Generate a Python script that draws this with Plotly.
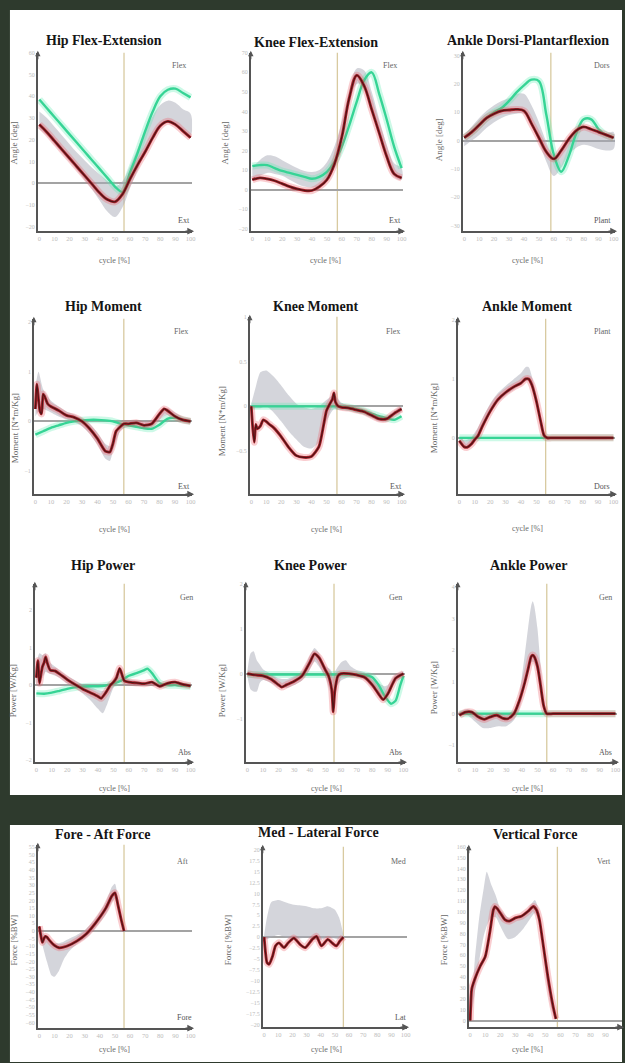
import plotly.graph_objects as go

W, H = 625, 1063

CYCLE = [0, 5, 10, 15, 20, 25, 30, 35, 40, 45, 50, 55, 60, 65, 70, 75, 80, 85, 90, 95, 100]
TICKS_X = [0, 10, 20, 30, 40, 50, 60, 70, 80, 90, 100]

# ---------------- joint angles [deg] ----------------
HIP_ANG_PAT = [27, 23.5, 19.5, 15.5, 11.5, 7.5, 3.5, -0.5, -4.5, -7.5, -8.5, -5, 2, 8.5, 14.5, 21, 26.5, 28.5, 27, 24, 21]
HIP_ANG_CMP = [38.5, 34.5, 30.5, 26.5, 22.5, 18.5, 14.5, 10.5, 6.5, 2.5, -1.5, -4, 5, 14, 24, 33, 40, 43, 43.5, 41.5, 39.5]
HIP_ANG_REF = [29, 26, 22, 18, 14, 10, 6, 2, -2, -6, -8.5, -5, 3, 11, 19, 26, 31, 33, 32, 29, 27]
HIP_ANG_SD = [4, 4, 4, 4, 4, 4, 4.5, 5, 6, 7, 7, 6, 5, 5, 5, 5, 5, 5, 5, 5, 5]

KNEE_ANG_PAT = [5, 6, 5.5, 4.5, 3, 1.5, 0.3, -0.5, -0.5, 1.5, 5, 13, 27, 47, 58.5, 53, 41, 29, 17, 8, 6]
KNEE_ANG_CMP = [12, 12.5, 12.5, 11, 9.5, 8.5, 7.5, 6.5, 5.5, 6.5, 9, 14, 22, 33, 45, 56, 60, 49, 36, 22, 11]
KNEE_ANG_REF = [8, 11, 13, 12.5, 11, 9, 7, 5.5, 5, 6, 10, 18, 31, 47, 58, 57, 46, 32, 19, 10, 8]
KNEE_ANG_SD = [3, 4, 4.5, 4.5, 4, 4, 4, 4, 4, 4, 4, 4, 4, 4, 4, 4, 4, 4, 4, 3.5, 3]

ANK_ANG_PAT = [1, 3, 5.5, 8, 9.5, 10.5, 10.8, 11, 10.5, 6, 1, -4, -6.5, -3.5, 0.5, 3.5, 4.8, 4, 3, 2, 1]
ANK_ANG_CMP = [1, 3, 5.5, 8, 10, 11.5, 14, 17, 19.5, 21.5, 21, 9, -5, -11, -5.5, 2.5, 7.5, 7.5, 4, 2, 1]
ANK_ANG_REF = [0, 2.5, 5, 7.5, 9.5, 11, 12, 13, 13, 9, 3, -4, -9, -6, -2, 0.5, 1.5, 1, 0, -0.5, 0]
ANK_ANG_SD = [2, 2.5, 3, 3, 3, 3, 3, 3.5, 3.5, 3.5, 3.5, 3.5, 3.5, 3.5, 3, 3, 3, 3, 3, 3, 3]

# ---------------- joint moments [N*m/Kg] ----------------
HIP_MOM_PAT_X = [0, 1, 2, 3, 4, 5, 6, 8, 10, 15, 20, 25, 30, 35, 40, 45, 48, 50, 52, 55, 57, 60, 65, 70, 75, 80, 83, 85, 90, 95, 100]
HIP_MOM_PAT = [0.25, 0.75, 0.45, 0.2, 0.15, 0.55, 0.5, 0.35, 0.3, 0.22, 0.12, 0.08, 0, -0.15, -0.35, -0.6, -0.62, -0.45, -0.2, -0.1, -0.05, -0.05, -0.03, -0.08, -0.05, 0.15, 0.25, 0.22, 0.1, 0.03, 0]
HIP_MOM_CMP = [-0.27, -0.2, -0.13, -0.08, -0.03, 0, 0.02, 0.03, 0.03, 0.02, 0, -0.05, -0.08, -0.11, -0.14, -0.15, -0.07, 0.05, 0.07, 0.03, 0]
HIP_MOM_REF_X = [0, 2, 5, 10, 15, 20, 25, 30, 35, 40, 45, 48, 50, 55, 60, 65, 70, 75, 80, 85, 90, 95, 100]
HIP_MOM_REF = [0.4, 0.6, 0.45, 0.3, 0.2, 0.12, 0.06, -0.02, -0.15, -0.35, -0.6, -0.65, -0.45, -0.1, -0.05, -0.05, -0.08, -0.05, 0.1, 0.2, 0.12, 0.03, 0]
HIP_MOM_SD = [0.3, 0.4, 0.2, 0.12, 0.1, 0.08, 0.08, 0.08, 0.1, 0.12, 0.15, 0.15, 0.15, 0.08, 0.06, 0.06, 0.06, 0.06, 0.07, 0.07, 0.06, 0.05, 0.05]

KNEE_MOM_PAT_X = [0, 1, 2, 3, 4, 6, 8, 10, 12, 15, 20, 25, 30, 35, 40, 45, 48, 50, 52, 54, 55, 56, 58, 60, 65, 70, 75, 80, 85, 90, 95, 100]
KNEE_MOM_PAT = [0, -0.25, -0.4, -0.2, -0.25, -0.22, -0.15, -0.17, -0.2, -0.24, -0.34, -0.46, -0.55, -0.57, -0.56, -0.45, -0.22, -0.05, 0.02, 0.08, 0.15, 0.05, 0, -0.01, -0.02, -0.04, -0.06, -0.1, -0.14, -0.14, -0.08, -0.03]
KNEE_MOM_CMP_X = [0, 10, 20, 30, 40, 50, 55, 60, 65, 70, 75, 80, 85, 90, 95, 100]
KNEE_MOM_CMP = [0, 0, 0, 0, 0, 0, 0, 0, -0.01, -0.03, -0.05, -0.08, -0.11, -0.13, -0.15, -0.11]
KNEE_MOM_REF_X = [0, 3, 6, 10, 15, 20, 25, 30, 35, 40, 45, 50, 55, 60, 65, 70, 75, 80, 85, 90, 95, 100]
KNEE_MOM_REF = [0, 0.1, 0.18, 0.2, 0.13, 0.03, -0.08, -0.17, -0.23, -0.25, -0.2, -0.05, 0.05, 0, -0.02, -0.04, -0.06, -0.1, -0.14, -0.14, -0.08, -0.03]
KNEE_MOM_SD = [0.03, 0.12, 0.2, 0.2, 0.2, 0.2, 0.2, 0.2, 0.22, 0.22, 0.2, 0.12, 0.08, 0.04, 0.03, 0.03, 0.03, 0.03, 0.03, 0.03, 0.03, 0.03]

ANK_MOM_PAT_X = [0, 3, 5, 8, 10, 12, 15, 20, 25, 30, 35, 40, 43, 45, 47, 50, 53, 55, 57, 60, 70, 80, 90, 100]
ANK_MOM_PAT = [-0.05, -0.15, -0.16, -0.1, -0.03, 0.03, 0.2, 0.45, 0.65, 0.77, 0.86, 0.93, 1.0, 1.0, 0.9, 0.62, 0.25, 0.04, 0, 0, 0, 0, 0, 0]
ANK_MOM_CMP = [0, 0, 0, 0, 0, 0, 0, 0, 0, 0, 0, 0, 0, 0, 0, 0, 0, 0, 0, 0, 0]
ANK_MOM_REF_X = [0, 3, 5, 8, 10, 12, 15, 20, 25, 30, 35, 40, 43, 45, 47, 50, 53, 55, 57, 60, 100]
ANK_MOM_REF = [-0.02, -0.1, -0.1, -0.05, 0.02, 0.1, 0.25, 0.5, 0.68, 0.8, 0.9, 1.0, 1.08, 1.08, 0.95, 0.65, 0.28, 0.06, 0, 0, 0]
ANK_MOM_SD = [0.03, 0.06, 0.07, 0.07, 0.07, 0.07, 0.08, 0.08, 0.08, 0.08, 0.09, 0.1, 0.12, 0.12, 0.1, 0.08, 0.06, 0.04, 0.02, 0.01, 0.01]

# ---------------- joint powers [W/Kg] ----------------
HIP_POW_PAT_X = [0, 1, 2, 3, 4, 5, 6, 7, 9, 12, 15, 20, 25, 30, 35, 40, 42, 45, 48, 50, 52, 54, 55, 57, 60, 65, 70, 75, 80, 85, 90, 95, 100]
HIP_POW_PAT = [0.2, 0.65, 0.05, 0.3, 0.5, 0.6, 0.75, 0.6, 0.4, 0.38, 0.3, 0.15, 0.02, -0.1, -0.2, -0.3, -0.35, -0.2, 0, 0.08, 0.2, 0.45, 0.35, 0.12, 0.08, 0.06, 0.04, 0.08, -0.03, 0.05, 0.08, 0.02, -0.02]
HIP_POW_CMP_X = [0, 5, 10, 15, 20, 25, 30, 35, 40, 45, 50, 55, 60, 65, 70, 72, 75, 80, 85, 90, 95, 100]
HIP_POW_CMP = [-0.22, -0.23, -0.2, -0.15, -0.1, -0.06, -0.04, -0.03, -0.03, -0.01, 0.04, 0.12, 0.25, 0.32, 0.4, 0.44, 0.32, 0.05, 0, 0, -0.02, -0.03]
HIP_POW_REF_X = [0, 2, 4, 6, 9, 12, 15, 20, 25, 30, 35, 40, 43, 46, 50, 53, 55, 57, 60, 65, 70, 75, 80, 85, 90, 95, 100]
HIP_POW_REF = [0.3, 0.5, 0.5, 0.6, 0.45, 0.38, 0.3, 0.15, 0.03, -0.1, -0.22, -0.38, -0.45, -0.3, 0.05, 0.25, 0.3, 0.12, 0.08, 0.06, 0.04, 0.06, -0.02, 0.05, 0.07, 0.02, -0.02]
HIP_POW_SD = [0.3, 0.35, 0.3, 0.25, 0.15, 0.12, 0.1, 0.1, 0.1, 0.12, 0.18, 0.25, 0.3, 0.2, 0.12, 0.15, 0.15, 0.1, 0.08, 0.06, 0.05, 0.05, 0.05, 0.05, 0.05, 0.04, 0.04]

KNEE_POW_PAT_X = [0, 5, 10, 15, 20, 22, 25, 30, 35, 40, 43, 46, 50, 52, 54, 55, 56, 58, 60, 65, 70, 75, 80, 85, 87, 90, 95, 100]
KNEE_POW_PAT = [0, -0.03, -0.05, -0.12, -0.25, -0.3, -0.25, -0.17, -0.05, 0.25, 0.44, 0.35, 0.08, -0.05, -0.35, -0.85, -0.4, -0.05, 0, 0, -0.03, -0.08, -0.25, -0.5, -0.58, -0.45, -0.1, 0]
KNEE_POW_CMP_X = [0, 10, 20, 30, 40, 50, 60, 70, 75, 80, 84, 88, 92, 95, 98, 100]
KNEE_POW_CMP = [-0.02, -0.02, -0.02, -0.02, -0.02, -0.02, -0.02, -0.02, -0.03, -0.08, -0.25, -0.5, -0.67, -0.6, -0.25, -0.05]
KNEE_POW_REF_X = [0, 2, 4, 6, 8, 10, 15, 20, 25, 30, 35, 40, 43, 46, 50, 53, 55, 57, 60, 63, 66, 70, 75, 80, 85, 88, 90, 95, 100]
KNEE_POW_REF = [0, 0.05, 0.05, -0.05, 0, -0.02, -0.1, -0.2, -0.22, -0.15, -0.05, 0.25, 0.42, 0.3, 0.05, -0.15, -0.3, -0.1, 0.05, 0.1, 0.05, 0, -0.05, -0.2, -0.35, -0.4, -0.35, -0.1, 0]
KNEE_POW_SD = [0.05, 0.4, 0.45, 0.35, 0.2, 0.12, 0.1, 0.1, 0.1, 0.1, 0.1, 0.15, 0.15, 0.15, 0.12, 0.25, 0.3, 0.2, 0.2, 0.2, 0.12, 0.08, 0.08, 0.12, 0.12, 0.12, 0.1, 0.08, 0.05]

ANK_POW_PAT_X = [0, 4, 8, 12, 16, 20, 24, 28, 31, 35, 38, 40, 42, 44, 46, 47, 48, 50, 52, 54, 56, 60, 70, 80, 90, 100]
ANK_POW_PAT = [-0.05, 0.05, 0.05, -0.1, -0.18, -0.1, -0.05, -0.15, -0.16, 0, 0.35, 0.65, 1.0, 1.4, 1.8, 1.85, 1.8, 1.5, 0.9, 0.25, 0, 0, 0, 0, 0, 0]
ANK_POW_CMP = [0, 0, 0, 0, 0, 0, 0, 0, 0, 0, 0, 0, 0, 0, 0, 0, 0, 0, 0, 0, 0]
ANK_POW_REF_X = [0, 5, 10, 15, 20, 25, 30, 35, 38, 40, 42, 44, 46, 47, 48, 50, 52, 54, 56, 60, 100]
ANK_POW_REF = [0, 0.05, -0.1, -0.25, -0.25, -0.2, -0.2, -0.05, 0.3, 0.8, 1.4, 2.0, 2.5, 2.6, 2.5, 2.0, 1.1, 0.35, 0.05, 0, 0]
ANK_POW_SD = [0.05, 0.1, 0.15, 0.2, 0.2, 0.2, 0.2, 0.15, 0.2, 0.35, 0.5, 0.7, 0.9, 0.95, 0.9, 0.7, 0.45, 0.2, 0.05, 0.02, 0.02]

# ---------------- ground reaction forces [%BW] ----------------
FA_PAT_X = [0, 1, 2, 3, 4, 5, 7, 10, 13, 18, 25, 31, 37, 44, 48, 50, 52, 54, 56]
FA_PAT = [3, -3, -7.5, -5, -3.5, -4, -6.5, -9.5, -11, -10, -6.5, -2, 5, 15, 23, 25, 17, 8, 0]
FA_REF_X = [0, 2, 5, 8, 10, 13, 16, 20, 25, 31, 37, 44, 48, 50, 52, 54, 56]
FA_REF = [0, -5, -12, -18, -19, -17, -13, -9, -5.5, -1.5, 5, 15, 24, 26, 18, 8, 0]
FA_SD = [1, 4, 8, 11, 11, 9, 6, 4, 3, 3, 3, 4, 5, 5, 4, 3, 1]

ML_PAT_X = [0, 1, 2, 3.5, 6, 8, 10.5, 14, 17, 21, 25.5, 29, 34, 37, 40.5, 45, 48, 51, 53.5, 56]
ML_PAT = [0, -3.6, -5.8, -6.2, -4.3, -2, -1.3, -2.4, -1.3, -0.2, -1.7, -2.4, -0.5, 0.2, -2, -0.5, -1.3, -2, -0.9, 0]
ML_REF_X = [0, 2, 5, 10, 15, 20, 25, 30, 35, 40, 45, 50, 53, 56]
ML_REF = [0, 2, 4, 4.5, 4, 3.5, 3.5, 3.5, 3, 3, 3.5, 3, 2, 0]
ML_SD = [0.5, 2.5, 4, 4, 4, 4, 3.8, 3.6, 3.6, 3.6, 3.6, 3.3, 2.5, 0.5]

VT_PAT_X = [0, 1, 3, 6.6, 10, 13, 15.4, 16.5, 18, 20, 23, 26, 30, 34, 38.5, 42, 44, 46, 48, 51.6, 55, 57]
VT_PAT = [0, 29, 38, 50, 59, 81, 102, 105, 103, 99, 93, 91.5, 94.5, 96, 100.6, 105, 102, 93, 75, 41, 14, 1.5]
VT_REF_X = [0, 3, 6, 9, 11, 14, 17, 20, 25, 30, 35, 40, 43, 46, 48, 51, 54, 57]
VT_REF = [0, 40, 75, 100, 112, 110, 105, 95, 85, 85, 90, 100, 105, 95, 75, 40, 15, 0]
VT_SD = [2, 15, 20, 22, 25, 15, 10, 8, 10, 8, 6, 6, 6, 5, 5, 5, 4, 1]

# toe-off instant for each panel [% cycle]
TOE_OFF = [56, 57, 58, 57, 57, 56, 57, 55.5, 56, 56, 56, 58]

# ---------------- styling ----------------
BG = "#2e3a2d"
PAT_COLOR = "#a8212a"
PAT_CORE = "#4e1416"
PAT_HALO = "rgba(235,90,100,0.30)"
CMP_COLOR = "#36d495"
CMP_HALO = "rgba(90,235,175,0.30)"
BAND = "rgba(170,172,184,0.5)"
AXIS = "#555555"
TICKC = "#bbbbbb"
TOE_COLOR = "#d8caa0"
SERIF = "Liberation Serif"


def fx(x):
    return x / W


def fy(y):
    return 1 - y / H


def band(x, mean, sd):
    up = [m + s for m, s in zip(mean, sd)]
    lo = [m - s for m, s in zip(mean, sd)]
    return list(x) + list(x)[::-1], up + lo[::-1]


PANELS = [
    dict(title="Hip Flex-Extension", ylab="Angle [deg]", top="Flex", bot="Ext",
         box=(38, 193, 50, 229), yr=(-22, 60), yt=[-20, -10, 0, 10, 20, 30, 40, 50, 60],
         tpos=(104, 38), ypos=(15, 140), xpos=(115, 258), toppos=(180, 63), botpos=(185, 218),
         ref=(CYCLE, HIP_ANG_REF, HIP_ANG_SD), cmp=(CYCLE, HIP_ANG_CMP), pat=(CYCLE, HIP_ANG_PAT), sm=1.0),
    dict(title="Knee Flex-Extension", ylab="Angle [deg]", top="Flex", bot="Ext",
         box=(252, 405, 50, 229), yr=(-21.3, 70), yt=[-20, -10, 0, 10, 20, 30, 40, 50, 60, 70],
         tpos=(318, 40), ypos=(227, 140), xpos=(327, 258), toppos=(392, 63), botpos=(397, 218),
         ref=(CYCLE, KNEE_ANG_REF, KNEE_ANG_SD), cmp=(CYCLE, KNEE_ANG_CMP), pat=(CYCLE, KNEE_ANG_PAT), sm=1.0),
    dict(title="Ankle Dorsi-Plantarflexion", ylab="Angle [deg]", top="Dors", bot="Plant",
         box=(465, 618, 50, 229), yr=(-32, 31), yt=[-30, -20, -10, 0, 10, 20, 30],
         tpos=(531, 38), ypos=(442, 137), xpos=(530, 258), toppos=(605, 63), botpos=(605, 218),
         ref=(CYCLE, ANK_ANG_REF, ANK_ANG_SD), cmp=(CYCLE, ANK_ANG_CMP), pat=(CYCLE, ANK_ANG_PAT), sm=1.0),
    dict(title="Hip Moment", ylab="Moment [N*m/Kg]", top="Flex", bot="Ext",
         box=(34, 193, 317, 493), yr=(-1.47, 2.07), yt=[-1, 0, 1, 2],
         tpos=(104, 305), ypos=(15, 427), xpos=(115, 528), toppos=(182, 330), botpos=(185, 485),
         ref=(HIP_MOM_REF_X, HIP_MOM_REF, HIP_MOM_SD), cmp=(CYCLE, HIP_MOM_CMP), pat=(HIP_MOM_PAT_X, HIP_MOM_PAT), sm=0.6),
    dict(title="Knee Moment", ylab="Moment [N*m/Kg]", top="Flex", bot="Ext",
         box=(251, 405, 315, 493), yr=(-0.98, 1.0), yt=[-1, -0.5, 0, 0.5, 1],
         tpos=(317, 305), ypos=(223, 420), xpos=(328, 528), toppos=(395, 330), botpos=(398, 485),
         ref=(KNEE_MOM_REF_X, KNEE_MOM_REF, KNEE_MOM_SD), cmp=(KNEE_MOM_CMP_X, KNEE_MOM_CMP), pat=(KNEE_MOM_PAT_X, KNEE_MOM_PAT), sm=0.6),
    dict(title="Ankle Moment", ylab="Moment [N*m/Kg]", top="Plant", bot="Dors",
         box=(460, 618, 317, 493), yr=(-0.955, 2.02), yt=[-1, 0, 1, 2],
         tpos=(530, 305), ypos=(437, 417), xpos=(530, 527), toppos=(605, 330), botpos=(605, 485),
         ref=(ANK_MOM_REF_X, ANK_MOM_REF, ANK_MOM_SD), cmp=(CYCLE, ANK_MOM_CMP), pat=(ANK_MOM_PAT_X, ANK_MOM_PAT), sm=0.7),
    dict(title="Hip Power", ylab="Power [W/Kg]", top="Gen", bot="Abs",
         box=(35, 193, 583, 762), yr=(-2.05, 2.7), yt=[-2, -1, 0, 1, 2],
         tpos=(103, 565), ypos=(13, 690), xpos=(115, 788), toppos=(187, 597), botpos=(185, 752),
         ref=(HIP_POW_REF_X, HIP_POW_REF, HIP_POW_SD), cmp=(HIP_POW_CMP_X, HIP_POW_CMP), pat=(HIP_POW_PAT_X, HIP_POW_PAT), sm=0.6),
    dict(title="Knee Power", ylab="Power [W/Kg]", top="Gen", bot="Abs",
         box=(247, 407, 583, 762), yr=(-1.97, 2.0), yt=[-2, -1, 0, 1, 2],
         tpos=(312, 565), ypos=(223, 690), xpos=(328, 788), toppos=(397, 597), botpos=(397, 752),
         ref=(KNEE_POW_REF_X, KNEE_POW_REF, KNEE_POW_SD), cmp=(KNEE_POW_CMP_X, KNEE_POW_CMP), pat=(KNEE_POW_PAT_X, KNEE_POW_PAT), sm=0.6),
    dict(title="Ankle Power", ylab="Power [W/Kg]", top="Gen", bot="Abs",
         box=(460, 620, 583, 762), yr=(-1.53, 4.1), yt=[-1, 0, 1, 2, 3, 4],
         tpos=(531, 565), ypos=(437, 687), xpos=(530, 788), toppos=(608, 597), botpos=(608, 752),
         ref=(ANK_POW_REF_X, ANK_POW_REF, ANK_POW_SD), cmp=(CYCLE, ANK_POW_CMP), pat=(ANK_POW_PAT_X, ANK_POW_PAT), sm=0.7),
    dict(title="Fore - Aft Force", ylab="Force [%BW]", top="Aft", bot="Fore",
         box=(38, 193, 845, 1029), yr=(-63.7, 56.5), yt=list(range(-60, 56, 5)),
         tpos=(103, 835), ypos=(15, 940), xpos=(115, 1050), toppos=(183, 862), botpos=(185, 1018),
         ref=(FA_REF_X, FA_REF, FA_SD), cmp=None, pat=(FA_PAT_X, FA_PAT), sm=0.6),
    dict(title="Med - Lateral Force", ylab="Force [%BW]", top="Med", bot="Lat",
         box=(264, 409, 847, 1028), yr=(-20.6, 20.7), yt=[-20, -17.5, -15, -12.5, -10, -7.5, -5, -2.5, 0, 2.5, 5, 7.5, 10, 12.5, 15, 17.5, 20],
         tpos=(320, 833), ypos=(230, 940), xpos=(328, 1050), toppos=(400, 862), botpos=(402, 1018),
         ref=(ML_REF_X, ML_REF, ML_SD), cmp=None, pat=(ML_PAT_X, ML_PAT), sm=0.6),
    dict(title="Vertical Force", ylab="Force [%BW]", top="Vert", bot="",
         box=(471, 625, 847, 1028), yr=(-6.1, 160), yt=list(range(0, 161, 10)),
         tpos=(538, 835), ypos=(447, 940), xpos=(530, 1050), toppos=(607, 862), botpos=(607, 1018),
         ref=(VT_REF_X, VT_REF, VT_SD), cmp=None, pat=(VT_PAT_X, VT_PAT), sm=0.6),
]

fig = go.Figure()
shapes = [
    dict(type="rect", xref="paper", yref="paper", x0=fx(10), x1=1, y0=fy(795), y1=fy(7),
         fillcolor="white", line=dict(width=0), layer="below"),
    dict(type="rect", xref="paper", yref="paper", x0=fx(10), x1=1, y0=0, y1=fy(825),
         fillcolor="white", line=dict(width=0), layer="below"),
]
annotations = []
layout_axes = {}


def label(x, y, text, size, color, angle=0):
    return dict(x=fx(x), y=fy(y), xref="paper", yref="paper", xanchor="center", yanchor="middle",
                text=text, textangle=angle, showarrow=False,
                font=dict(family=SERIF, size=size, color=color))


for i, p in enumerate(PANELS, start=1):
    sfx = "" if i == 1 else str(i)
    xr, yr = "x" + sfx, "y" + sfx
    l, r, t, b = p["box"]

    # reference band (mean +/- SD)
    bx, byv = band(*p["ref"])
    fig.add_trace(go.Scatter(x=bx, y=byv, fill="toself", fillcolor=BAND, mode="lines",
                             line=dict(width=0, shape="spline", smoothing=p["sm"]),
                             xaxis=xr, yaxis=yr, hoverinfo="skip"))
    # comparison curve
    if p["cmp"] is not None:
        cx, cy = p["cmp"]
        fig.add_trace(go.Scatter(x=cx, y=cy, mode="lines", xaxis=xr, yaxis=yr,
                                 line=dict(color=CMP_HALO, width=7, shape="spline", smoothing=p["sm"])))
        fig.add_trace(go.Scatter(x=cx, y=cy, mode="lines", xaxis=xr, yaxis=yr,
                                 line=dict(color=CMP_COLOR, width=2.4, shape="spline", smoothing=p["sm"])))
    # patient curve
    px_, py_ = p["pat"]
    fig.add_trace(go.Scatter(x=px_, y=py_, mode="lines", xaxis=xr, yaxis=yr,
                             line=dict(color=PAT_HALO, width=7, shape="spline", smoothing=p["sm"])))
    fig.add_trace(go.Scatter(x=px_, y=py_, mode="lines", xaxis=xr, yaxis=yr,
                             line=dict(color=PAT_COLOR, width=2.8, shape="spline", smoothing=p["sm"])))
    fig.add_trace(go.Scatter(x=px_, y=py_, mode="lines", xaxis=xr, yaxis=yr,
                             line=dict(color=PAT_CORE, width=1.2, shape="spline", smoothing=p["sm"])))

    layout_axes["xaxis" + sfx] = dict(
        domain=[fx(l), fx(r)], range=[-1, 101], anchor=yr, tickvals=TICKS_X,
        showline=True, linecolor=AXIS, linewidth=2, showgrid=False, zeroline=False,
        ticks="", tickfont=dict(family=SERIF, size=6.5, color=TICKC), fixedrange=True)
    layout_axes["yaxis" + sfx] = dict(
        domain=[fy(b), fy(t)], range=list(p["yr"]), anchor=xr, tickvals=p["yt"],
        showline=True, linecolor=AXIS, linewidth=1.5, showgrid=False,
        zeroline=True, zerolinecolor="#a3a3a3", zerolinewidth=1.5,
        ticks="", tickfont=dict(family=SERIF, size=6, color=TICKC), fixedrange=True)

    # toe-off marker
    shapes.append(dict(type="line", xref=xr, yref=yr + " domain", x0=TOE_OFF[i - 1], x1=TOE_OFF[i - 1],
                       y0=0, y1=1, line=dict(color=TOE_COLOR, width=1.3), layer="below"))

    # axis arrowheads
    annotations.append(dict(x=fx(r + 2), y=fy(b), xref="paper", yref="paper", ax=-10, ay=0,
                            showarrow=True, arrowhead=2, arrowsize=0.9, arrowwidth=1.5,
                            arrowcolor=AXIS, text=""))
    annotations.append(dict(x=fx(l), y=fy(t - 2), xref="paper", yref="paper", ax=0, ay=10,
                            showarrow=True, arrowhead=2, arrowsize=0.9, arrowwidth=1.2,
                            arrowcolor=AXIS, text=""))

    # texts
    annotations.append(label(*p["tpos"], "<b>" + p["title"] + "</b>", 14, "#151515"))
    annotations.append(label(*p["ypos"], p["ylab"], 9, "#666666", angle=-90))
    annotations.append(label(*p["xpos"], "cycle [%]", 8, "#6a6a6a"))
    annotations.append(label(*p["toppos"], p["top"], 8, "#666666"))
    if p["bot"]:
        annotations.append(label(*p["botpos"], p["bot"], 8, "#555555"))

fig.update_layout(
    width=W, height=H, margin=dict(l=0, r=0, t=0, b=0),
    paper_bgcolor=BG, plot_bgcolor="rgba(0,0,0,0)", showlegend=False,
    shapes=shapes, annotations=annotations, **layout_axes)

fig.write_html("out.html")
